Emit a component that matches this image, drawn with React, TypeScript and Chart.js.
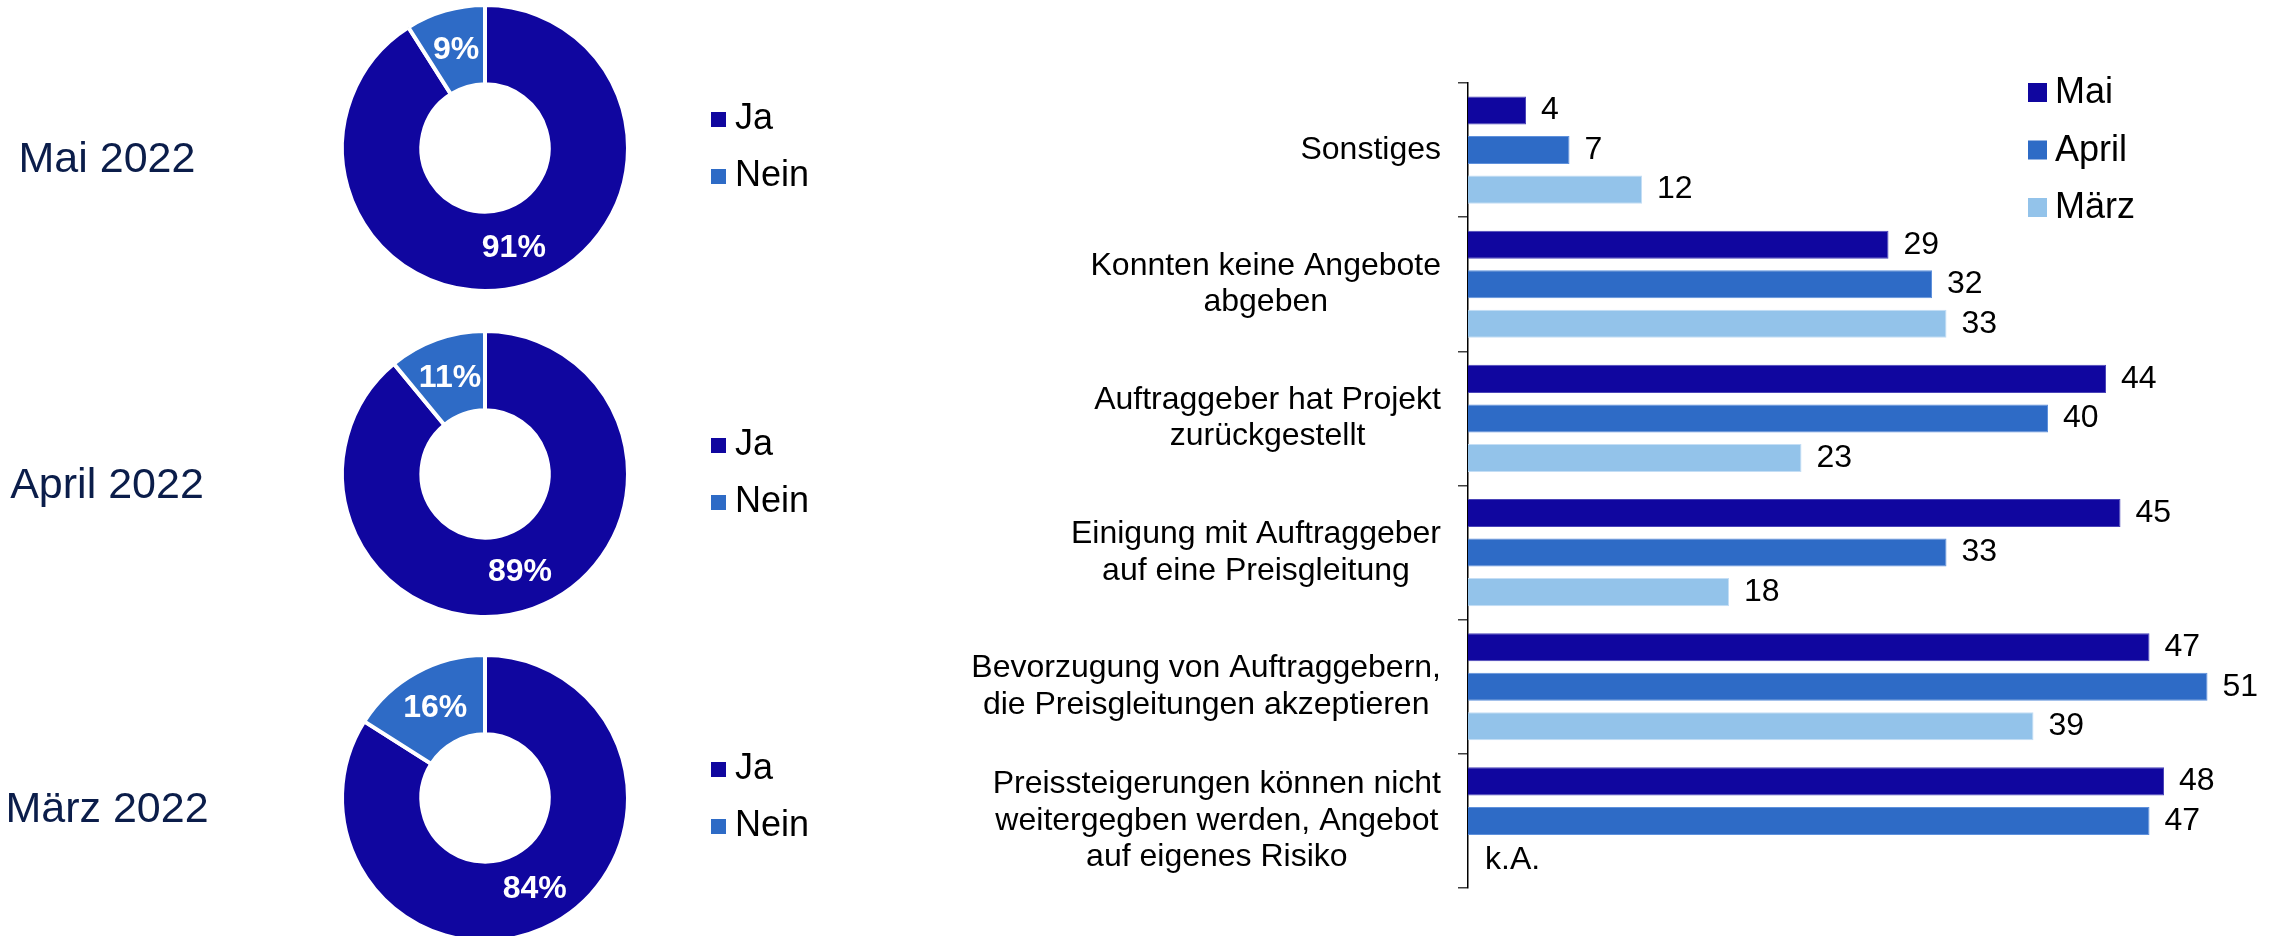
import { useEffect, useRef } from 'react';
import { Chart, registerables } from 'chart.js';

Chart.register(...registerables);

const FONT = "'Liberation Sans', Arial, Helvetica, sans-serif";

// ---- Doughnut data ----
const pieLabels = ['Ja', 'Nein'];
const pieTitles = ['Mai 2022', 'April 2022', 'März 2022'];
const pieMai = [91, 9];
const pieApril = [89, 11];
const pieMaerz = [84, 16];
const pieColors = ['#10069f', '#2e6bc6'];

// ---- Bar data ----
const barCategories = [
  ['Sonstiges'],
  ['Konnten keine Angebote', 'abgeben'],
  ['Auftraggeber hat Projekt', 'zurückgestellt'],
  ['Einigung mit Auftraggeber', 'auf eine Preisgleitung'],
  ['Bevorzugung von Auftraggebern,', 'die Preisgleitungen akzeptieren'],
  ['Preissteigerungen können nicht', 'weitergegben werden, Angebot', 'auf eigenes Risiko'],
];
const seriesNames = ['Mai', 'April', 'März'];
const barMai = [4, 29, 44, 45, 47, 48];
const barApril = [7, 32, 40, 33, 51, 47];
const barMaerz: (number | null)[] = [12, 33, 23, 18, 39, null];
const missingLabel = 'k.A.';
const barColors = ['#10069f', '#2e6bc6', '#93c3ea'];
const barBorders = ['#4a44b8', '#5f91dc', '#c4def5'];

// ---- layout (page pixels) ----
const PIE_CANVAS_W = 900;
const PIE_CANVAS_H = 326;
const pieCenters = [148, 474, 798];

function Donut({ title, values, cy }: { title: string; values: number[]; cy: number }) {
  const ref = useRef<HTMLCanvasElement | null>(null);
  useEffect(() => {
    if (!ref.current) return;
    const mid = PIE_CANVAS_H / 2;
    const decor = {
      id: 'donutDecor',
      afterDatasetsDraw(chart: any) {
        const ctx = chart.ctx;
        const meta = chart.getDatasetMeta(0);
        ctx.save();
        ctx.fillStyle = '#ffffff';
        ctx.font = `bold 32px ${FONT}`;
        ctx.textAlign = 'center';
        ctx.textBaseline = 'middle';
        meta.data.forEach((arc: any, i: number) => {
          const p = arc.tooltipPosition(false);
          ctx.fillText(`${chart.data.datasets[0].data[i]}%`, p.x, p.y + 1);
        });
        ctx.restore();
      },
      afterDraw(chart: any) {
        const ctx = chart.ctx;
        ctx.save();
        // title
        ctx.fillStyle = '#0b1d4a';
        ctx.font = `43px ${FONT}`;
        ctx.textAlign = 'center';
        ctx.textBaseline = 'alphabetic';
        ctx.fillText(title, 107, mid + 24);
        // legend
        ctx.font = `36px ${FONT}`;
        ctx.textAlign = 'left';
        ctx.textBaseline = 'middle';
        (chart.data.labels as string[]).forEach((lab, i) => {
          const yc = mid - 28.5 + i * 57;
          ctx.fillStyle = pieColors[i];
          ctx.fillRect(711, yc - 7.5, 15, 15);
          ctx.fillStyle = '#000000';
          ctx.fillText(lab, 735, yc);
        });
        ctx.restore();
      },
    };
    const chart = new Chart(ref.current, {
      type: 'doughnut',
      data: {
        labels: pieLabels,
        datasets: [
          {
            data: values,
            backgroundColor: pieColors,
            borderColor: '#ffffff',
            borderWidth: 4,
          },
        ],
      },
      options: {
        responsive: false,
        animation: false,
        events: [],
        radius: 143,
        cutout: '44.5%',
        layout: { padding: { left: 345, right: 275, top: 23, bottom: 23 } },
        plugins: { legend: { display: false }, tooltip: { enabled: false } },
      } as any,
      plugins: [decor],
    });
    return () => chart.destroy();
  }, [title, values, cy]);
  return (
    <canvas
      ref={ref}
      width={PIE_CANVAS_W}
      height={PIE_CANVAS_H}
      style={{ position: 'absolute', left: 0, top: cy - PIE_CANVAS_H / 2, width: PIE_CANVAS_W, height: PIE_CANVAS_H }}
    />
  );
}

function Bars() {
  const ref = useRef<HTMLCanvasElement | null>(null);
  useEffect(() => {
    if (!ref.current) return;
    const decor = {
      id: 'barDecor',
      afterDatasetsDraw(chart: any) {
        const ctx = chart.ctx;
        const xs = chart.scales.x;
        ctx.save();
        ctx.fillStyle = '#000000';
        ctx.font = `32px ${FONT}`;
        ctx.textAlign = 'left';
        ctx.textBaseline = 'middle';
        chart.data.datasets.forEach((ds: any, di: number) => {
          const meta = chart.getDatasetMeta(di);
          meta.data.forEach((bar: any, i: number) => {
            const v = ds.data[i];
            if (v === null || v === undefined) {
              ctx.fillText(missingLabel, xs.getPixelForValue(0) + 17, bar.y);
            } else {
              ctx.fillText(String(v), xs.getPixelForValue(v) + 15, bar.y);
            }
          });
        });
        ctx.restore();
      },
      afterDraw(chart: any) {
        const ctx = chart.ctx;
        const ys = chart.scales.y;
        ctx.save();
        // category labels: block right-aligned, lines centered
        ctx.fillStyle = '#000000';
        ctx.font = `32px ${FONT}`;
        ctx.textAlign = 'center';
        ctx.textBaseline = 'middle';
        const right = ys.right - 27;
        ys.ticks.forEach((_t: any, i: number) => {
          const lab = ys.getLabelForValue(i);
          const lines: string[] = Array.isArray(lab) ? lab : [String(lab)];
          const widest = Math.max(...lines.map((l) => ctx.measureText(l).width));
          const cx = right - widest / 2;
          const yc = ys.getPixelForTick(i);
          lines.forEach((l, j) => {
            ctx.fillText(l, cx, yc + (j - (lines.length - 1) / 2) * 36.5);
          });
        });
        // legend
        ctx.font = `36px ${FONT}`;
        ctx.textAlign = 'left';
        chart.data.datasets.forEach((ds: any, i: number) => {
          const yc = 92.5 + i * 57.5;
          ctx.fillStyle = ds.backgroundColor;
          ctx.fillRect(1128, yc - 9.5, 19, 19);
          ctx.fillStyle = '#000000';
          ctx.fillText(ds.label, 1155, yc + 1);
        });
        ctx.restore();
      },
    };
    const series = [barMai, barApril, barMaerz];
    const chart = new Chart(ref.current, {
      type: 'bar',
      data: {
        labels: barCategories as any,
        datasets: series.map((d, i) => ({
          label: seriesNames[i],
          data: d as any,
          backgroundColor: barColors[i],
          borderColor: barBorders[i],
          borderWidth: 1,
          categoryPercentage: 0.884,
          barPercentage: 0.71,
        })),
      },
      options: {
        indexAxis: 'y',
        responsive: false,
        animation: false,
        events: [],
        layout: { padding: { top: 83, bottom: 48, right: 26, left: 0 } },
        plugins: { legend: { display: false }, tooltip: { enabled: false } },
        scales: {
          x: { display: false, min: 0, max: 54 },
          y: {
            afterFit: (s: any) => {
              s.width = 568;
            },
            grid: {
              drawOnChartArea: false,
              drawTicks: true,
              tickLength: 10,
              color: '#404040',
              lineWidth: 1.5,
              offset: true,
            },
            border: { display: true, color: '#000000', width: 1.5 },
            ticks: { display: false },
          },
        },
      } as any,
      plugins: [decor],
    });
    return () => chart.destroy();
  }, []);
  return (
    <canvas
      ref={ref}
      width={1377}
      height={936}
      style={{ position: 'absolute', left: 900, top: 0, width: 1377, height: 936 }}
    />
  );
}

export default function App() {
  const pies = [pieMai, pieApril, pieMaerz];
  return (
    <div
      style={{
        position: 'absolute',
        left: 0,
        top: 0,
        width: 2277,
        height: 936,
        overflow: 'hidden',
        background: '#ffffff',
      }}
    >
      {pies.map((v, i) => (
        <Donut key={pieTitles[i]} title={pieTitles[i]} values={v} cy={pieCenters[i]} />
      ))}
      <Bars />
    </div>
  );
}
